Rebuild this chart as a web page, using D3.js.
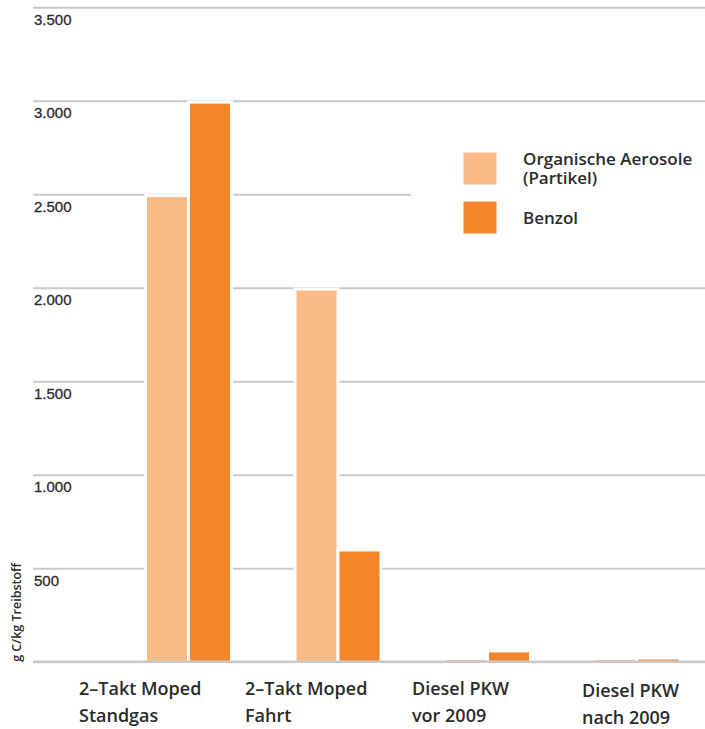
<!DOCTYPE html>
<html>
<head>
<meta charset="utf-8">
<script src="https://cdn.jsdelivr.net/npm/d3@7/dist/d3.min.js"></script>
<style>
  html, body { margin: 0; padding: 0; background: #fff; }
  svg { display: block; }
</style>
</head>
<body>
<svg id="chart" width="705" height="729"></svg>
<script>
// Emissions per kg fuel (g C / kg Treibstoff)
const categories = [
  ["2–Takt Moped", "Standgas"],
  ["2–Takt Moped", "Fahrt"],
  ["Diesel PKW", "vor 2009"],
  ["Diesel PKW", "nach 2009"]
];
const seriesNames = ["Organische Aerosole (Partikel)", "Benzol"];
const aerosole = [2485, 1985, 10, 10];
const benzol = [2985, 590, 50, 12];
const yTicks = [0, 500, 1000, 1500, 2000, 2500, 3000, 3500];
const yTickLabels = ["", "500", "1.000", "1.500", "2.000", "2.500", "3.000", "3.500"];
const yTitle = "g C/kg Treibstoff";

const colors = ["#fabb87", "#f5852b"];
const textColor = "#2b2b2b";
const gridColor = "#c9c9c9";
const labelFont = "'Open Sans', sans-serif";

const svg = d3.select("#chart");

const y = d3.scaleLinear().domain([0, 3500]).range([661.8, 7.3]);
const gridLeft = 33, gridRight = 705;

const x0 = d3.scaleBand()
  .domain(d3.range(categories.length))
  .range([113.75, 711.75])
  .paddingInner(1 - 83 / 149.5)
  .paddingOuter((1 - 83 / 149.5) / 2);

const x1 = d3.scaleBand()
  .domain([0, 1])
  .range([0, x0.bandwidth()])
  .paddingInner(3 / 43);

// Horizontal grid lines with labels sitting just below each line
const yAxis = d3.axisLeft(y)
  .tickValues(yTicks)
  .tickFormat((d, i) => yTickLabels[i]);

const gAxis = svg.append("g")
  .attr("transform", `translate(${gridLeft},0)`)
  .call(yAxis)
  .call(g => g.select(".domain").remove());
gAxis.selectAll(".tick line")
  .attr("x1", 0)
  .attr("x2", gridRight - gridLeft)
  .attr("stroke", gridColor)
  .attr("stroke-width", 2);
gAxis.selectAll(".tick text")
  .attr("x", 1)
  .attr("dy", 0)
  .attr("y", 17)
  .attr("text-anchor", "start")
  .attr("fill", textColor)
  .attr("stroke", textColor)
  .attr("stroke-width", 0.3)
  .style("font-family", "'Liberation Sans', Arial, sans-serif")
  .style("font-size", "15px");

// Bars, each with a white halo that breaks the grid lines
const groups = svg.append("g")
  .selectAll("g")
  .data(categories.map((c, i) => ({ i, values: [aerosole[i], benzol[i]] })))
  .join("g")
  .attr("transform", d => `translate(${x0(d.i)},0)`);

groups.selectAll("rect")
  .data(d => d.values.map((v, s) => ({ v, s })))
  .join("rect")
  .attr("x", d => x1(d.s))
  .attr("width", x1.bandwidth())
  .attr("y", d => y(d.v))
  .attr("height", d => y(0) - y(d.v))
  .attr("fill", d => colors[d.s])
  .attr("stroke", "#fff")
  .attr("stroke-width", 6)
  .attr("paint-order", "stroke");

// Base line drawn over the bar feet
svg.append("line")
  .attr("x1", gridLeft).attr("x2", gridRight)
  .attr("y1", y(0)).attr("y2", y(0))
  .attr("stroke", gridColor)
  .attr("stroke-width", 2.6);

// Category labels under the groups
const labelLeft = [79, 245, 412, 582];
const labelTop = [695, 695, 695, 697];
svg.append("g")
  .selectAll("text")
  .data(categories)
  .join("text")
  .attr("x", (d, i) => labelLeft[i])
  .attr("y", (d, i) => labelTop[i])
  .attr("fill", textColor)
  .style("font-family", labelFont)
  .style("font-weight", 600)
  .style("font-size", "18px")
  .selectAll("tspan")
  .data(d => d)
  .join("tspan")
  .attr("x", function () { return this.parentNode.getAttribute("x"); })
  .attr("dy", (d, j) => j === 0 ? 0 : 26.5)
  .text(d => d);

// Y axis title
svg.append("text")
  .attr("transform", `translate(21,${y(0)}) rotate(-90)`)
  .attr("text-anchor", "start")
  .attr("fill", textColor)
  .style("font-family", labelFont)
  .style("font-weight", 600)
  .style("font-size", "12.5px")
  .text(yTitle);

// Legend on a white panel
const legend = svg.append("g");
legend.append("rect")
  .attr("x", 411).attr("y", 130)
  .attr("width", 294).attr("height", 120)
  .attr("fill", "#fff");
const legendRows = [
  { lines: ["Organische Aerosole", "(Partikel)"], top: 152.5, text: 165 },
  { lines: ["Benzol"], top: 201.5, text: 224 }
];
legendRows.forEach((r, s) => {
  legend.append("rect")
    .attr("x", 463.5).attr("y", r.top)
    .attr("width", 33).attr("height", 32)
    .attr("fill", colors[s]);
  r.lines.forEach((ln, j) => {
    legend.append("text")
      .attr("x", 523).attr("y", r.text + j * 18.5)
      .attr("fill", textColor)
      .style("font-family", labelFont)
      .style("font-weight", 600)
      .style("font-size", "17px")
      .text(ln);
  });
});
</script>
</body>
</html>
